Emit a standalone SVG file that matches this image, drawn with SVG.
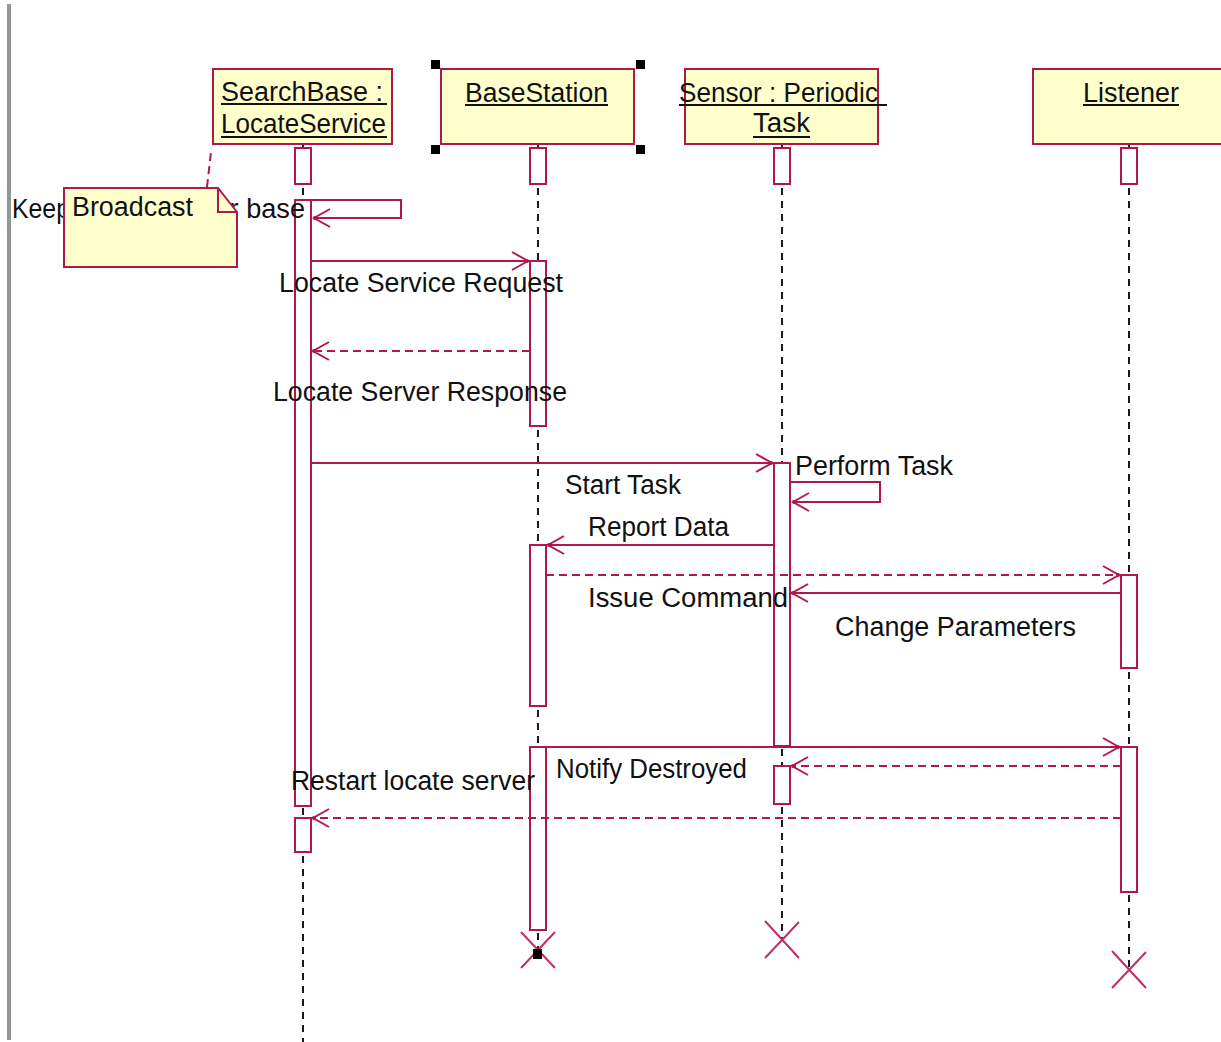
<svg xmlns="http://www.w3.org/2000/svg" width="1221" height="1042" viewBox="0 0 1221 1042">
  <style>
    .obj { fill: #ffffcc; stroke: #b0184c; stroke-width: 2; }
    .act { fill: #ffffff; stroke: #b0184c; stroke-width: 2; }
    .life { stroke: #1a1a1a; stroke-width: 2; stroke-dasharray: 7 6; fill: none; }
    .tick { stroke: #1a1a1a; stroke-width: 2; }
    .msg { stroke: #b0184c; stroke-width: 2; fill: none; }
    .ret { stroke: #b0184c; stroke-width: 2; fill: none; stroke-dasharray: 8 5; }
    .ul { stroke: #111; stroke-width: 2; }
    .lbl { font-family: "Liberation Sans", Arial, sans-serif; font-size: 27px; fill: #111; }
    .kill { stroke: #c03060; stroke-width: 2; fill: none; }
    .handle { fill: #000; }
  </style>
  <defs>
    <marker id="open" viewBox="-18 -11 20 22" refX="0" refY="0" markerWidth="20" markerHeight="22" markerUnits="userSpaceOnUse" orient="auto">
      <path d="M-16,-9 L0,0 L-16,9" fill="none" stroke="#b0184c" stroke-width="2" stroke-dasharray="none"/>
      <circle cx="-1" cy="0" r="2" fill="#b0184c"/>
    </marker>
  </defs>

  <rect width="1221" height="1042" fill="#ffffff"/>
  <!-- window edge -->
  <rect x="7" y="4" width="4" height="1036" fill="#959595"/>

  <!-- lifelines (dashed) -->
  <g id="lifelines">
    <line class="tick" x1="303" y1="144" x2="303" y2="148"/>
    <line class="life" x1="303" y1="188" x2="303" y2="200"/>
    <line class="life" x1="303" y1="808" x2="303" y2="818"/>
    <line class="life" x1="303" y1="856" x2="303" y2="1042"/>

    <line class="tick" x1="538" y1="144" x2="538" y2="148"/>
    <line class="life" x1="538" y1="188" x2="538" y2="261"/>
    <line class="life" x1="538" y1="430" x2="538" y2="545"/>
    <line class="life" x1="538" y1="710" x2="538" y2="747"/>
    <line class="life" x1="538" y1="933" x2="538" y2="950"/>

    <line class="tick" x1="782" y1="144" x2="782" y2="148"/>
    <line class="life" x1="782" y1="188" x2="782" y2="463"/>
    <line class="life" x1="782" y1="749" x2="782" y2="766"/>
    <line class="life" x1="782" y1="807" x2="782" y2="940"/>

    <line class="tick" x1="1129" y1="144" x2="1129" y2="148"/>
    <line class="life" x1="1129" y1="188" x2="1129" y2="575"/>
    <line class="life" x1="1129" y1="672" x2="1129" y2="747"/>
    <line class="life" x1="1129" y1="895" x2="1129" y2="970"/>
  </g>

  <!-- SearchBase : LocateService -->
  <g id="searchbase">
    <rect class="obj" x="213" y="69" width="179" height="75"/>
    <text class="lbl" x="221" y="101" textLength="162" lengthAdjust="spacingAndGlyphs">SearchBase :</text>
    <line class="ul" x1="221" y1="104" x2="387" y2="104"/>
    <text class="lbl" x="221" y="133" textLength="165" lengthAdjust="spacingAndGlyphs">LocateService</text>
    <line class="ul" x1="221" y1="137" x2="387" y2="137"/>
    <rect class="act" x="295" y="148" width="16" height="36"/>
    <rect class="act" x="295" y="200" width="16" height="606"/>
    <rect class="act" x="295" y="818" width="16" height="34"/>
  </g>

  <!-- BaseStation -->
  <g id="basestation">
    <rect class="obj" x="441" y="69" width="193" height="75"/>
    <text class="lbl" x="465" y="102" textLength="143" lengthAdjust="spacingAndGlyphs">BaseStation</text>
    <line class="ul" x1="465" y1="105" x2="608" y2="105"/>
    <rect class="handle" x="431" y="60" width="9" height="9"/>
    <rect class="handle" x="636" y="60" width="9" height="9"/>
    <rect class="handle" x="431" y="145" width="9" height="9"/>
    <rect class="handle" x="636" y="145" width="9" height="9"/>
    <rect class="act" x="530" y="148" width="16" height="36"/>
    <rect class="act" x="530" y="261" width="16" height="165"/>
    <rect class="act" x="530" y="545" width="16" height="161"/>
    <rect class="act" x="530" y="747" width="16" height="183"/>
    <path class="kill" d="M521,932 L555,968 M555,932 L521,968"/>
    <rect class="handle" x="533" y="949" width="9" height="10"/>
  </g>

  <!-- Sensor : PeriodicTask -->
  <g id="sensor">
    <rect class="obj" x="685" y="69" width="193" height="75"/>
    <text class="lbl" x="679" y="102" textLength="199" lengthAdjust="spacingAndGlyphs">Sensor : Periodic</text>
    <line class="ul" x1="679" y1="105" x2="887" y2="105"/>
    <text class="lbl" x="753" y="132" textLength="57" lengthAdjust="spacingAndGlyphs">Task</text>
    <line class="ul" x1="753" y1="137" x2="810" y2="137"/>
    <rect class="act" x="774" y="148" width="16" height="36"/>
    <rect class="act" x="774" y="463" width="16" height="283"/>
    <rect class="act" x="774" y="766" width="16" height="38"/>
    <path class="kill" d="M765,921 L799,958 M799,922 L765,958"/>
  </g>

  <!-- Listener -->
  <g id="listener">
    <rect class="obj" x="1033" y="69" width="192" height="75"/>
    <text class="lbl" x="1083" y="102" textLength="96" lengthAdjust="spacingAndGlyphs">Listener</text>
    <line class="ul" x1="1083" y1="105" x2="1179" y2="105"/>
    <rect class="act" x="1121" y="148" width="16" height="36"/>
    <rect class="act" x="1121" y="575" width="16" height="93"/>
    <rect class="act" x="1121" y="747" width="16" height="145"/>
    <path class="kill" d="M1112,951 L1146,988 M1146,952 L1112,988"/>
  </g>

  <!-- messages -->
  <g id="connectors">
    <polyline class="msg" points="311,200 401,200 401,218 314,218" marker-end="url(#open)"/>
    <line class="msg" x1="311" y1="261" x2="528" y2="261" marker-end="url(#open)"/>
    <line class="ret" x1="530" y1="351" x2="313" y2="351" marker-end="url(#open)"/>
    <line class="msg" x1="311" y1="463" x2="772" y2="463" marker-end="url(#open)"/>
    <polyline class="msg" points="790,482 880,482 880,502 793,502" marker-end="url(#open)"/>
    <line class="msg" x1="774" y1="545" x2="548" y2="545" marker-end="url(#open)"/>
    <line class="ret" x1="546" y1="575" x2="1119" y2="575" marker-end="url(#open)"/>
    <line class="msg" x1="1121" y1="593" x2="792" y2="593" marker-end="url(#open)"/>
    <line class="msg" x1="530" y1="747" x2="1119" y2="747" marker-end="url(#open)"/>
    <line class="ret" x1="1121" y1="766" x2="792" y2="766" marker-end="url(#open)"/>
    <line class="ret" x1="1121" y1="818" x2="313" y2="818" marker-end="url(#open)"/>
  </g>

  <!-- message labels -->
  <g id="labels">
    <text class="lbl" x="12" y="218" textLength="58" lengthAdjust="spacingAndGlyphs">Keep</text>
    <text class="lbl" x="207" y="218" textLength="98" lengthAdjust="spacingAndGlyphs">for base</text>
    <text class="lbl" x="279" y="292" textLength="284" lengthAdjust="spacingAndGlyphs">Locate Service Request</text>
    <text class="lbl" x="273" y="401" textLength="294" lengthAdjust="spacingAndGlyphs">Locate Server Response</text>
    <text class="lbl" x="795" y="475" textLength="158" lengthAdjust="spacingAndGlyphs">Perform Task</text>
    <text class="lbl" x="565" y="494" textLength="116" lengthAdjust="spacingAndGlyphs">Start Task</text>
    <text class="lbl" x="588" y="536" textLength="141" lengthAdjust="spacingAndGlyphs">Report Data</text>
    <text class="lbl" x="588" y="607" textLength="200" lengthAdjust="spacingAndGlyphs">Issue Command</text>
    <text class="lbl" x="835" y="636" textLength="241" lengthAdjust="spacingAndGlyphs">Change Parameters</text>
    <text class="lbl" x="556" y="778" textLength="191" lengthAdjust="spacingAndGlyphs">Notify Destroyed</text>
    <text class="lbl" x="291" y="790" textLength="244" lengthAdjust="spacingAndGlyphs">Restart locate server</text>
  </g>

  <!-- note attached to SearchBase -->
  <g id="note">
    <line class="ret" x1="207" y1="187" x2="211" y2="152"/>
    <path class="obj" d="M64,188 L218,188 L237,212 L237,267 L64,267 Z"/>
    <polyline class="msg" points="218,188 218,212 237,212"/>
    <text class="lbl" x="72" y="216" textLength="121" lengthAdjust="spacingAndGlyphs">Broadcast</text>
  </g>
</svg>
